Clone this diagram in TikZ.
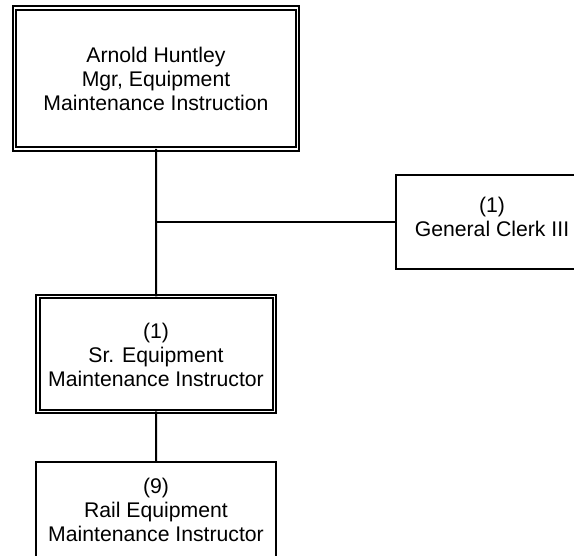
\documentclass[tikz,border=0pt]{standalone}
\usepackage{fontspec}
\setmainfont{Liberation Sans}
\begin{document}
\begin{tikzpicture}[x=1pt,y=-1pt,
  boxtext/.style={align=center,font=\fontsize{21.2}{24}\selectfont,inner sep=0pt,outer sep=0pt},
  singlebox/.style={draw,line width=2pt,rectangle,inner sep=0pt,outer sep=0pt},
  doublebox/.style={draw,line width=1.9pt,double,double distance=1.9pt,rectangle,inner sep=0pt,outer sep=0pt},
  link/.style={line width=2pt}]
\useasboundingbox (0,0) rectangle (574,556);
% boxes
\node[doublebox,minimum width=283pt,minimum height=140.7pt] (mgr) at (156,78.65) {};
\node[doublebox,minimum width=236.5pt,minimum height=115pt] (sr) at (156.25,354) {};
\node[singlebox,minimum width=240pt,minimum height=96pt] (rail) at (156,510) {};
\node[singlebox,minimum width=194pt,minimum height=94pt] (clerk) at (493,222) {};
% texts
\node[boxtext] (mgrt) at (156,78.5) {Arnold Huntley\\Mgr, Equipment\\Maintenance Instruction};
\node[boxtext] (srt) at (156,354.5) {(1)\\Sr. Equipment\\Maintenance Instructor};
\node[boxtext] (railt) at (156,509.5) {(9)\\Rail Equipment\\Maintenance Instructor};
\node[boxtext] (clerkt) at (492,216.5) {(1)\\General Clerk III};
% connectors
\coordinate (j) at (mgr.south |- clerk.west);
\draw[link] (mgr.south) -- (sr.north);
\draw[link] (j) -- (clerk.west);
\draw[link] (sr.south) -- (rail.north);
\end{tikzpicture}
\end{document}
